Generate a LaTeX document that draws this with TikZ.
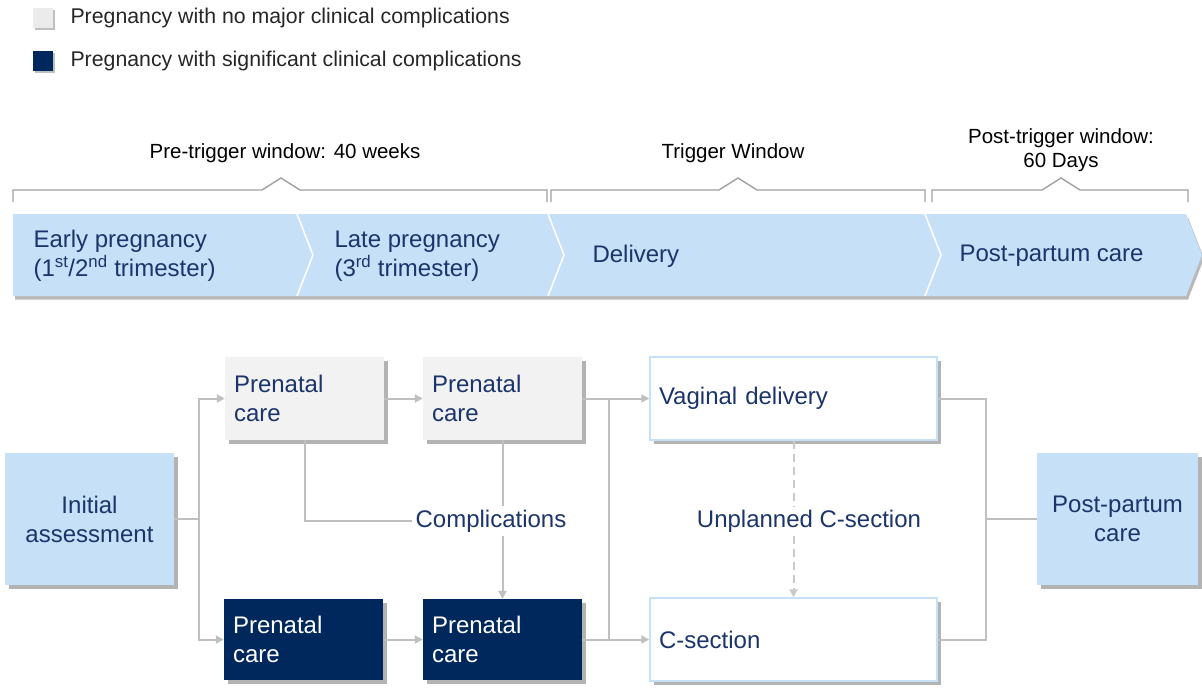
\documentclass[tikz,border=0pt]{standalone}
\usepackage{fontspec}
\setmainfont{Liberation Sans}
\usetikzlibrary{arrows.meta,shadows}
\definecolor{navy}{RGB}{0,40,92}
\definecolor{ink}{RGB}{27,52,107}
\definecolor{paleblue}{RGB}{198,224,248}
\definecolor{palegray}{RGB}{242,242,242}
\definecolor{linegray}{RGB}{191,191,191}
\definecolor{bracegray}{RGB}{160,160,160}

\begin{document}
\begin{tikzpicture}[x=1pt,y=-1pt,
    every node/.style={font=\fontsize{24}{29}\selectfont,text=ink},
    shade box/.style={drop shadow={shadow xshift=3.5pt,shadow yshift=-3.5pt,opacity=.6}},
    bluebox/.style={fill=paleblue,align=center,inner sep=0pt,shade box},
    carebox/.style={fill=palegray,align=left,text width=141pt,inner xsep=9pt,inner ysep=0pt,minimum height=83pt,shade box},
    darkbox/.style={carebox,fill=navy,text=white,minimum height=81pt},
    birthbox/.style={fill=white,draw=paleblue,line width=1.5pt,align=left,text width=269pt,inner xsep=9pt,inner ysep=0pt,minimum height=83pt,shade box},
    conn/.style={draw=linegray,line width=2pt},
    arr/.style={conn,-{Triangle[length=8pt,width=8pt]}},
    dashconn/.style={draw=linegray!85,line width=2pt,dash pattern=on 8pt off 5pt},
    brace/.style={draw=bracegray,line width=1.4pt},
    cue/.style={font=\fontsize{20.5}{24}\selectfont,text=black,align=center},
    phase/.style={anchor=west,align=left},
    legsq/.style={minimum size=20pt,inner sep=0pt,drop shadow={shadow xshift=1.5pt,shadow yshift=-1.5pt,opacity=.5}},
    legtxt/.style={anchor=west,font=\fontsize{21.3}{25}\selectfont,text=black!85}]
  \useasboundingbox (0,0) rectangle (1202,688);

  \node[legsq,fill=black!8] (legA) at (43,18) {};
  \node[legtxt] (legAtxt) at (67,18) {Pregnancy with no major clinical complications};
  \node[legsq,fill=navy] (legB) at (43,61) {};
  \node[legtxt] (legBtxt) at (67,61) {Pregnancy with significant clinical complications};

  \foreach \l/\m/\r in {13/281/547, 551/738/925, 932/1061/1188}
    \draw[brace] (\l,202) -- (\l,190) -- (\m-19,190) -- (\m,178) -- (\m+19,190) -- (\r,190) -- (\r,202);
  \node[cue] (pretrig) at (285,153) {Pre-trigger window: 40 weeks};
  \node[cue] (trigwin) at (733,153) {Trigger Window};
  \node[cue] (posttrig) at (1061,150) {Post-trigger window:\\60 Days};

  \fill[paleblue,drop shadow={shadow xshift=2pt,shadow yshift=-3.5pt,opacity=.55}]
    (13,214) -- (1186,214) -- (1202,255) -- (1186,296) -- (13,296) -- cycle;
  \foreach \cx in {297,548,925}
    \draw[white,line width=1.5pt] (\cx,214) -- (\cx+16,255) -- (\cx,296);
  \node[phase] (early) at (30,256) {Early pregnancy\\(1\textsuperscript{st}/2\textsuperscript{nd} trimester)};
  \node[phase] (late) at (331,256) {Late pregnancy\\(3\textsuperscript{rd} trimester)};
  \node[phase] (deliv) at (589,256) {Delivery};
  \node[phase] (postcare) at (956,256) {Post-partum care};

  \node[bluebox,minimum width=169pt,minimum height=132pt] (init) at (89.5,519) {Initial\\assessment};
  \node[carebox] (pre1) at (304.5,398.5) {Prenatal\\care};
  \node[carebox] (pre2) at (502.5,398.5) {Prenatal\\care};
  \node[darkbox] (cpre1) at (303.5,639.5) {Prenatal\\care};
  \node[darkbox] (cpre2) at (502.5,639.5) {Prenatal\\care};
  \node[birthbox] (vag) at (793.5,398.5) {Vaginal delivery};
  \node[birthbox] (csec) at (793.5,639.5) {C-section};
  \node[bluebox,minimum width=161pt,minimum height=132pt] (post) at (1117.5,519) {Post-partum\\care};
  \node (compl) at (491,521) {Complications};
  \node (unpl) at (809,521) {Unplanned C-section};

  \coordinate (splitA) at (199,519);
  \coordinate (splitB) at (609,519);
  \coordinate (joinR) at (986,519);

  \draw[conn] (init) -- (splitA);
  \draw[arr] (splitA) |- (pre1);
  \draw[arr] (splitA) |- (cpre1);
  \draw[arr] (pre1) -- (pre2);
  \draw[arr] (cpre1) -- (cpre2);
  \draw[conn] (pre1.south) |- (compl.west);
  \draw[conn] (pre2.south) -- (pre2.south |- compl.north);
  \draw[arr] (pre2.south |- compl.south) -- (cpre2.north);
  \draw[arr] (pre2) -- (vag);
  \draw[arr] (cpre2) -- (csec);
  \draw[conn] (splitB |- vag) -- (splitB |- csec);
  \draw[conn] (vag) -| (joinR) |- (csec);
  \draw[conn] (joinR) -- (post);
  \draw[dashconn] (vag.south) -- (vag.south |- unpl.north);
  \draw[dashconn,-{Triangle[length=8pt,width=8pt]}] (vag.south |- unpl.south) -- (csec.north);
\end{tikzpicture}
\end{document}
